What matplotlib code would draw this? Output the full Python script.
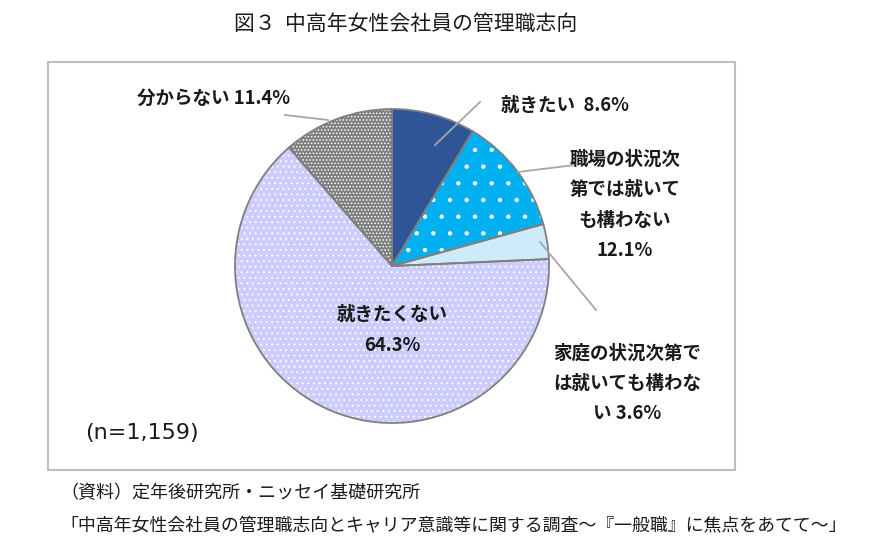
import matplotlib
matplotlib.use('Agg')
import matplotlib.pyplot as plt
from matplotlib.patches import Rectangle

plt.rcParams['font.family'] = ['Noto Sans CJK JP', 'DejaVu Sans']
plt.rcParams['hatch.linewidth'] = 0.7

# data
labels = ['就きたい', '職場の状況次第では就いても構わない', '家庭の状況次第では就いても構わない', '就きたくない', '分からない']
values = [8.6, 12.1, 3.6, 64.3, 11.4]
colors = ['#2F5597', '#00B0F0', '#CDEBFA', '#CCCCFF', '#7F7F7F']
hatches = ['', '.', '', '...', '.....']

W, H = 879, 560
fig = plt.figure(figsize=(W / 100, H / 100), dpi=100)
ax = fig.add_axes([0, 0, 1, 1])

def Y(y):
  """ image y (top-down) to axes y """
  return H - y

center = (392, Y(266))
radius = 157

# filled wedges with white dot hatch
wedges, _ = ax.pie(values, colors=colors, startangle=90, counterclock=False,
                   center=center, radius=radius, frame=True,
                   wedgeprops=dict(edgecolor='white', linewidth=0))
for w, h in zip(wedges, hatches):
  w.set_hatch(h)
# outlines on top
ax.pie(values, colors=['none'] * len(values), startangle=90, counterclock=False,
       center=center, radius=radius, frame=True,
       wedgeprops=dict(edgecolor='#7F7F7F', linewidth=1.3, fill=False))
ax.set_xlim(0, W)
ax.set_ylim(0, H)
ax.set_aspect('equal')
ax.axis('off')

# chart frame
ax.add_patch(Rectangle((48, Y(470)), 687, 408, fill=False, edgecolor='#BFBFBF', lw=1.5))

# leader lines
lc = '#A6A6A6'
for (x0, y0), (x1, y1) in [((435, 145), (480, 102)),
                           ((518, 172), (575, 165)),
                           ((540, 242), (596, 310)),
                           ((285, 115), (328, 120))]:
  ax.plot([x0, x1], [Y(y0), Y(y1)], color=lc, lw=1.3)

lab = dict(fontsize=13.3, fontweight='bold', color='#1A1A1A', ha='center', va='center')
ax.text(565, Y(105), '就きたい  ' + f'{values[0]}%', **lab)
ax.text(625, Y(205), '職場の状況次\n第では就いて\nも構わない\n' + f'{values[1]}%', linespacing=1.75, **lab)
ax.text(627, Y(383), '家庭の状況次第で\nは就いても構わな\nい ' + f'{values[2]}%', linespacing=1.75, **lab)
ax.text(392, Y(330), '就きたくない\n' + f'{values[3]}%', linespacing=1.75, **lab)
ax.text(214, Y(98), '分からない ' + f'{values[4]}%', **lab)

ax.text(142, Y(433), '(n=1,159)', fontsize=16, color='#1A1A1A', ha='center', va='center',
        family=['Liberation Sans Narrow', 'DejaVu Sans'])

ax.text(406, Y(24), '図３  中高年女性会社員の管理職志向', fontsize=15, color='#1A1A1A', ha='center', va='center')
ax.text(60, Y(493), '（資料）定年後研究所・ニッセイ基礎研究所', fontsize=13, color='#1A1A1A', ha='left', va='center')
ax.text(60, Y(526), '「中高年女性会社員の管理職志向とキャリア意識等に関する調査～『一般職』に焦点をあてて～」',
        fontsize=12.9, color='#1A1A1A', ha='left', va='center')

fig.savefig('out.png', dpi=100, facecolor='white')
